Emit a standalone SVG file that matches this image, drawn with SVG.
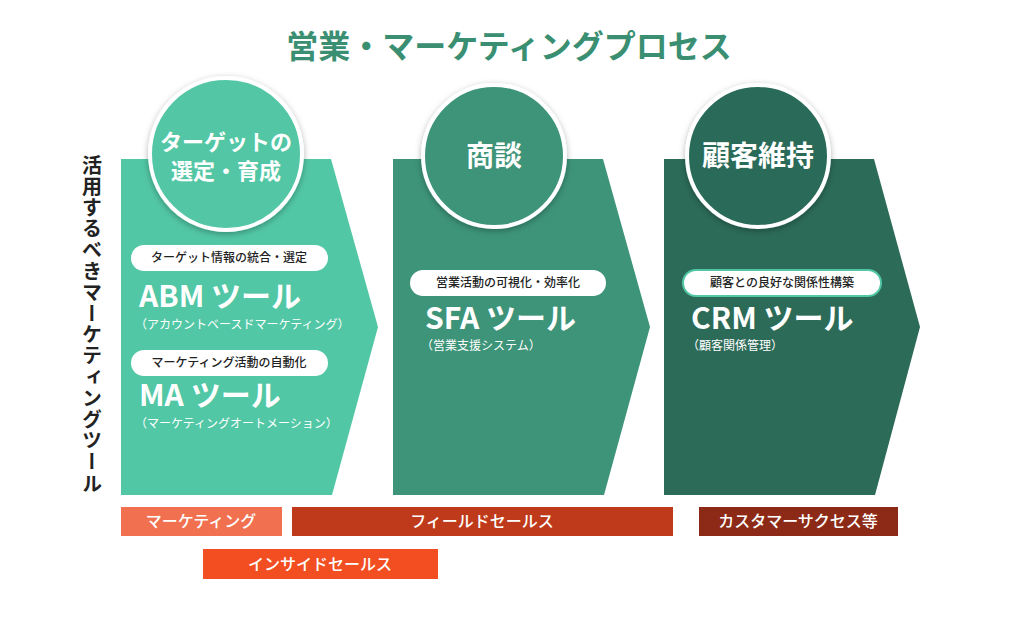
<svg xmlns="http://www.w3.org/2000/svg" width="1024" height="624" viewBox="0 0 1024 624">
<defs>
<filter id="sh" x="-20%" y="-20%" width="140%" height="140%"><feDropShadow dx="0" dy="2" stdDeviation="3" flood-color="#000" flood-opacity="0.3"/></filter>
</defs>
<style>
text{font-family:"Noto Sans CJK JP","Noto Sans",sans-serif}
.w{fill:#fff;font-weight:bold}
.pill{fill:#fff}
.pt{font-size:12px;fill:#222;text-anchor:middle;font-weight:500}
.tool{font-size:30px;fill:#fff;font-weight:bold}
.sub{font-size:12px;fill:#fff}
.bar{font-size:16px;fill:#fff;text-anchor:middle;font-weight:500}
.circ{stroke:#fff;stroke-width:4;filter:url(#sh)}
</style>
<rect width="1024" height="624" fill="#fff"/>
<text x="509" y="58" font-size="32" font-weight="bold" fill="#3a8f72" text-anchor="middle">営業・マーケティングプロセス</text>
<text x="92" y="155" font-size="20" font-weight="bold" fill="#222" style="writing-mode:vertical-rl" letter-spacing="1.2">活用するべきマーケティングツール</text>
<g id="stage1">
<path d="M121,159 H331 L378,327 L332,495 H121 Z" fill="#52c7a5"/>
<circle class="circ" cx="226" cy="154" r="76" fill="#52c7a5"/>
<text class="w" x="226" y="150" font-size="22" text-anchor="middle">ターゲットの</text>
<text class="w" x="226" y="179" font-size="22" text-anchor="middle">選定・育成</text>
<rect class="pill" x="131" y="245" width="197" height="26" rx="13"/>
<text class="pt" x="229" y="262">ターゲット情報の統合・選定</text>
<text class="tool" x="139" y="307">ABM ツール</text>
<text class="sub" x="135" y="329">（アカウントベースドマーケティング）</text>
<rect class="pill" x="131" y="350" width="197" height="26" rx="13"/>
<text class="pt" x="229" y="367">マーケティング活動の自動化</text>
<text class="tool" x="139" y="406">MA ツール</text>
<text class="sub" x="135" y="428">（マーケティングオートメーション）</text>
</g>
<g id="stage2">
<path d="M393,159 H603 L650,327 L604,495 H393 Z" fill="#3d9479"/>
<circle class="circ" cx="494" cy="156" r="71" fill="#3d9479"/>
<text class="w" x="494" y="166" font-size="28" text-anchor="middle">商談</text>
<rect class="pill" x="410" y="270" width="196" height="26" rx="13"/>
<text class="pt" x="508" y="287">営業活動の可視化・効率化</text>
<text class="tool" x="425" y="329">SFA ツール</text>
<text class="sub" x="421" y="350">（営業支援システム）</text>
</g>
<g id="stage3">
<path d="M664,159 H874 L920,327 L875,495 H664 Z" fill="#2c6b58"/>
<circle class="circ" cx="758" cy="156" r="71" fill="#2c6b58"/>
<text class="w" x="758" y="166" font-size="28" text-anchor="middle">顧客維持</text>
<rect class="pill" x="683" y="270" width="198" height="26" rx="13" stroke="#52c7a5" stroke-width="2"/>
<text class="pt" x="782" y="287">顧客との良好な関係性構築</text>
<text class="tool" x="691" y="329">CRM ツール</text>
<text class="sub" x="687" y="350">（顧客関係管理）</text>
</g>
<g id="bars">
<rect x="121" y="507" width="161" height="29" fill="#f07050"/>
<text class="bar" x="201" y="527">マーケティング</text>
<rect x="292" y="507" width="381" height="29" fill="#bf3a1a"/>
<text class="bar" x="482" y="527">フィールドセールス</text>
<rect x="699" y="507" width="199" height="29" fill="#8c2a17"/>
<text class="bar" x="798" y="527">カスタマーサクセス等</text>
<rect x="203" y="549" width="235" height="30" fill="#f24e22"/>
<text class="bar" x="320" y="570">インサイドセールス</text>
</g>
<g id="connectors"></g>
</svg>
